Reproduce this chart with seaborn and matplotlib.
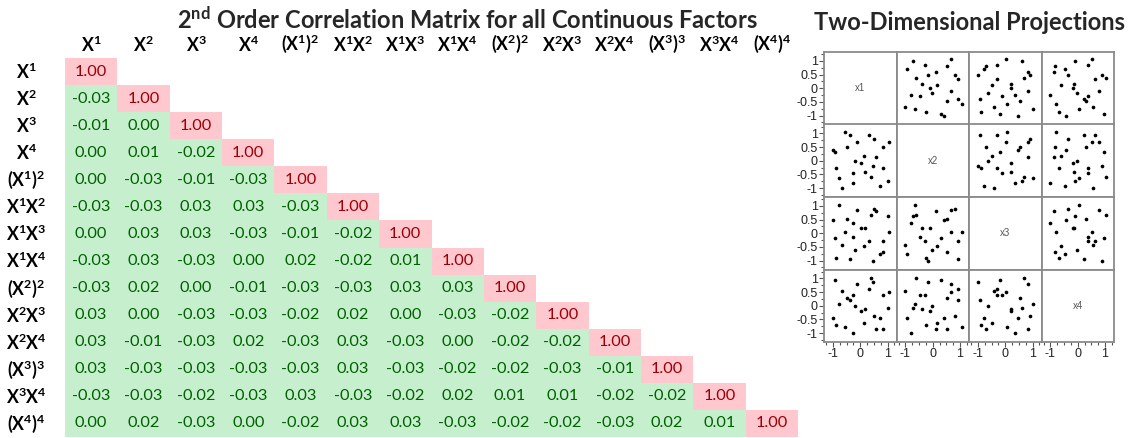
import numpy as np
import pandas as pd
import matplotlib
matplotlib.use("Agg")
import matplotlib.pyplot as plt
import seaborn as sns
from matplotlib.colors import ListedColormap
from matplotlib.ticker import MultipleLocator

# ---------------- data ----------------
term_labels = [r"$\mathregular{X^1}$", r"$\mathregular{X^2}$", r"$\mathregular{X^3}$", r"$\mathregular{X^4}$",
               r"$\mathregular{(X^1)^2}$", r"$\mathregular{X^1X^2}$", r"$\mathregular{X^1X^3}$",
               r"$\mathregular{X^1X^4}$", r"$\mathregular{(X^2)^2}$", r"$\mathregular{X^2X^3}$",
               r"$\mathregular{X^2X^4}$", r"$\mathregular{(X^3)^3}$", r"$\mathregular{X^3X^4}$",
               r"$\mathregular{(X^4)^4}$"]

r_x1 = [1.00]
r_x2 = [-0.03, 1.00]
r_x3 = [-0.01, 0.00, 1.00]
r_x4 = [0.00, 0.01, -0.02, 1.00]
r_x1sq = [0.00, -0.03, -0.01, -0.03, 1.00]
r_x1x2 = [-0.03, -0.03, 0.03, 0.03, -0.03, 1.00]
r_x1x3 = [0.00, 0.03, 0.03, -0.03, -0.01, -0.02, 1.00]
r_x1x4 = [-0.03, 0.03, -0.03, 0.00, 0.02, -0.02, 0.01, 1.00]
r_x2sq = [-0.03, 0.02, 0.00, -0.01, -0.03, -0.03, 0.03, 0.03, 1.00]
r_x2x3 = [0.03, 0.00, -0.03, -0.03, -0.02, 0.02, 0.00, -0.03, -0.02, 1.00]
r_x2x4 = [0.03, -0.01, -0.03, 0.02, -0.03, 0.03, -0.03, 0.00, -0.02, -0.02, 1.00]
r_x3cu = [0.03, -0.03, -0.03, -0.03, -0.03, 0.03, -0.03, -0.02, -0.02, -0.03, -0.01, 1.00]
r_x3x4 = [-0.03, -0.03, -0.02, -0.03, 0.03, -0.03, -0.02, 0.02, 0.01, 0.01, -0.02, -0.02, 1.00]
r_x4q = [0.00, 0.02, -0.03, 0.00, -0.02, 0.03, 0.03, -0.03, -0.02, -0.02, -0.03, 0.02, 0.01, 1.00]

x1 = [-0.56, -0.38, 0.33, 0.49, -0.11, 1.06, -0.47, 0.83, -1.01, -0.94, 0.12, 0.59, -0.19,
      0.01, 0.48, -0.88, 0.84, 0.16, -0.28, 0.38, -0.77, 1.00, -0.26, 0.72, -0.67]
x2 = [1.06, 0.94, 0.93, 0.80, 0.67, 0.68, 0.51, 0.51, 0.40, 0.32, 0.16, 0.12, -0.02,
      -0.10, -0.19, -0.26, -0.28, -0.40, -0.46, -0.60, -0.65, -0.73, -0.80, -0.93, -1.01]
x3 = [0.05, -0.94, -0.29, 0.90, 0.85, 0.04, 0.53, -0.69, 0.48, -0.18, -0.48, 0.83, -0.62,
      0.20, -1.01, -0.89, -0.29, 0.21, -0.12, 0.68, 1.02, 0.63, 0.37, -0.77, -0.43]
x4 = [-0.79, 0.22, 0.63, -0.36, 0.78, 0.51, 0.30, -0.85, -0.44, 0.95, -0.63, -0.87, -0.01,
      -0.19, 0.88, -0.70, 0.39, -0.12, 0.39, 1.02, 0.05, -0.10, -1.01, -0.46, 0.55]
factor_names = ["x1", "x2", "x3", "x4"]

# ---------------- styling ----------------
sns.set_theme(style="white")
plt.rcParams["font.family"] = ["Lato", "DejaVu Sans"]
plt.rcParams["mathtext.fontset"] = "custom"
plt.rcParams["mathtext.rm"] = "Lato"
plt.rcParams["mathtext.bf"] = "Lato:bold"

W, H = 1132, 438
fig = plt.figure(figsize=(W / 100, H / 100), dpi=100)
fig.patch.set_facecolor("white")

def px_axes(x0, y0, x1_, y1_):
    return fig.add_axes([x0 / W, 1 - y1_ / H, (x1_ - x0) / W, (y1_ - y0) / H])

# ---------------- correlation heatmap ----------------
rows = [r_x1, r_x2, r_x3, r_x4, r_x1sq, r_x1x2, r_x1x3, r_x1x4, r_x2sq, r_x2x3,
        r_x2x4, r_x3cu, r_x3x4, r_x4q]
n = len(term_labels)
mat = np.full((n, n), np.nan)
for i, r in enumerate(rows):
    mat[i, :len(r)] = r
df = pd.DataFrame(mat, index=term_labels, columns=term_labels)
mask = np.isnan(mat)

ax = px_axes(65, 58, 798, 437)
cmap = ListedColormap(["#C6EFCE", "#FFC7CE"])
sns.heatmap(df, mask=mask, cmap=cmap, vmin=-1.5, vmax=2.5, cbar=False,
            annot=True, fmt=".2f", annot_kws={"size": 11.8}, ax=ax,
            linewidths=0, square=False)
for t in ax.texts:
    v = float(t.get_text())
    t.set_color("#9C0006" if v >= 0.5 else "#006100")
    t.set_fontfamily(["Lato", "DejaVu Sans"])

ax.xaxis.tick_top()
ax.set_xticklabels(term_labels, rotation=0, fontsize=12.8, fontweight="bold", color="black")
ax.set_yticklabels(term_labels, rotation=0, fontsize=12.8, fontweight="bold", color="black")
for lab in ax.get_yticklabels():
    lab.set_ha("center")
ax.tick_params(axis="x", length=0, pad=2)
ax.tick_params(axis="y", length=0, pad=28)
ax.set_xlabel("")
ax.set_ylabel("")

fig.text(467 / W, 1 - 20 / H,
         r"$\mathregular{2^{nd}}$ Order Correlation Matrix for all Continuous Factors",
         ha="center", va="center", fontsize=17, fontweight="bold")

# ---------------- scatterplot matrix ----------------
sdf = pd.DataFrame({"x1": x1, "x2": x2, "x3": x3, "x4": x4})
gx0, gy0, cell = 824, 52, 72.5
lim = 1.33
frame_col = "#8a8a8a"
for i, yname in enumerate(factor_names):
    for j, xname in enumerate(factor_names):
        sax = px_axes(gx0 + j * cell, gy0 + i * cell, gx0 + (j + 1) * cell, gy0 + (i + 1) * cell)
        sax.set_facecolor("white")
        if i != j:
            sns.scatterplot(data=sdf, x=xname, y=yname, ax=sax, color="black", s=7,
                            linewidth=0, legend=False)
        else:
            sax.text(0.5, 0.5, xname, transform=sax.transAxes, ha="center", va="center",
                     fontsize=7, color="#555555", family="Liberation Sans")
        sax.set_xlim(-lim, lim)
        sax.set_ylim(-lim, lim)
        sax.set_xlabel("")
        sax.set_ylabel("")
        for sp in sax.spines.values():
            sp.set_visible(True)
            sp.set_color(frame_col)
            sp.set_linewidth(1.3)
        sax.xaxis.set_major_locator(MultipleLocator(1))
        sax.xaxis.set_minor_locator(MultipleLocator(0.25))
        sax.yaxis.set_major_locator(MultipleLocator(0.5))
        sax.yaxis.set_minor_locator(MultipleLocator(0.25))
        sax.tick_params(which="both", direction="out", color="#555555", width=0.8,
                        labelsize=9, labelcolor="#222222", pad=1)
        sax.tick_params(which="major", length=3.5)
        sax.tick_params(which="minor", length=2)
        sax.tick_params(left=(j == 0), labelleft=(j == 0), bottom=(i == 3),
                        labelbottom=(i == 3), which="both")
        if j == 0:
            sax.set_yticks([-1, -0.5, 0, 0.5, 1])
            sax.set_yticklabels(["-1", "-0.5", "0", "0.5", "1"], family="Liberation Sans")
        if i == 3:
            sax.set_xticks([-1, 0, 1])
            sax.set_xticklabels(["-1", "0", "1"], family="Liberation Sans")

fig.text(970 / W, 1 - 23 / H, "Two-Dimensional Projections", ha="center", va="center",
         fontsize=17, fontweight="bold")

fig.savefig("out.png", dpi=100, facecolor="white")
